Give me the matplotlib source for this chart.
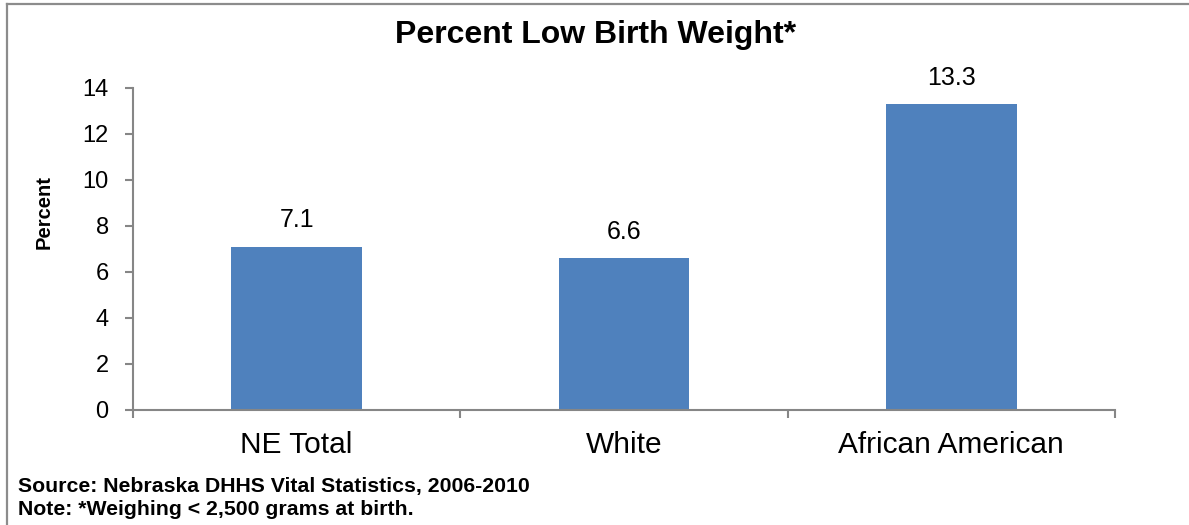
import matplotlib.pyplot as plt
from matplotlib.lines import Line2D

categories = ["NE Total", "White", "African American"]
percent_low_birth_weight = [7.1, 6.6, 13.3]
y_ticks = [0, 2, 4, 6, 8, 10, 12, 14]

plt.rcParams['font.family'] = ['Liberation Sans', 'DejaVu Sans']

W, H = 1189, 525
fig = plt.figure(figsize=(W / 100, H / 100), dpi=100)
fig.patch.set_facecolor('white')

ax = fig.add_axes([133 / W, 1 - 410 / H, (1115 - 133) / W, (410 - 88) / H])

x = list(range(len(categories)))
ax.bar(x, percent_low_birth_weight, width=0.4, color='#4F81BD', zorder=2)

ax.set_xlim(-0.5, len(categories) - 0.5)
ax.set_ylim(0, 14)
ax.set_yticks(y_ticks)
ax.set_yticklabels([str(t) for t in y_ticks], fontsize=17)

# category labels centred under bars, tick marks at category boundaries
ax.set_xticks(x)
ax.set_xticklabels(categories, fontsize=21.5)
ax.tick_params(axis='x', length=0, pad=15)
ax.set_xticks([i - 0.5 for i in range(len(categories) + 1)], minor=True)
ax.tick_params(axis='x', which='minor', length=6, width=1.5, color='#868686', direction='out')
ax.tick_params(axis='y', length=6, width=1.5, color='#868686', direction='out', pad=11.5)

for side in ('top', 'right'):
    ax.spines[side].set_visible(False)
for side in ('left', 'bottom'):
    ax.spines[side].set_color('#868686')
    ax.spines[side].set_linewidth(1.5)

fig.text(44 / W, 1 - 212 / H, 'Percent', rotation=90, ha='center', va='center',
         fontsize=14.5, fontweight='bold')

for xi, v in zip(x, percent_low_birth_weight):
    ax.annotate(f'{v}', (xi, v), xytext=(0, 14), textcoords='offset points',
                ha='center', va='baseline', fontsize=18)

fig.text(596 / W, 1 - 43 / H, 'Percent Low Birth Weight*', ha='center', va='baseline',
         fontsize=23, fontweight='bold')

fig.text(18 / W, 1 - 492 / H, 'Source: Nebraska DHHS Vital Statistics, 2006-2010',
         ha='left', va='baseline', fontsize=15.3, fontweight='bold')
fig.text(18 / W, 1 - 515 / H, 'Note: *Weighing < 2,500 grams at birth.',
         ha='left', va='baseline', fontsize=15.3, fontweight='bold')

# chart frame (top and left edges)
fig.add_artist(Line2D([7 / W, 1], [1 - 4 / H, 1 - 4 / H], color='#8C8C8C', lw=1.6,
                      transform=fig.transFigure))
fig.add_artist(Line2D([7 / W, 7 / W], [0, 1 - 4 / H], color='#8C8C8C', lw=1.6,
                      transform=fig.transFigure))

fig.savefig('out.png', dpi=100, facecolor='white')
